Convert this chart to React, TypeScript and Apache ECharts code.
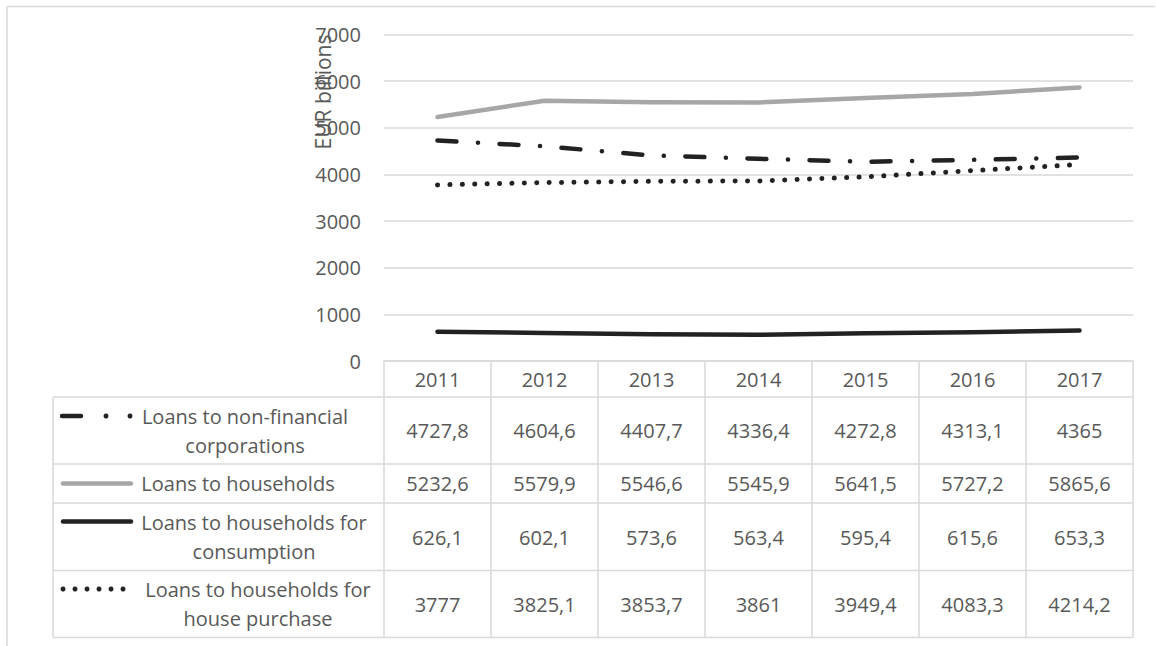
import React, { useEffect, useRef } from "react";
import * as echarts from "echarts";

const years = ["2011", "2012", "2013", "2014", "2015", "2016", "2017"];
const nonFinancial = [4727.8, 4604.6, 4407.7, 4336.4, 4272.8, 4313.1, 4365];
const households = [5232.6, 5579.9, 5546.6, 5545.9, 5641.5, 5727.2, 5865.6];
const consumption = [626.1, 602.1, 573.6, 563.4, 595.4, 615.6, 653.3];
const housePurchase = [3777, 3825.1, 3853.7, 3861, 3949.4, 4083.3, 4214.2];
const seriesNames = [
  "Loans to non-financial\ncorporations",
  "Loans to households",
  "Loans to households for\nconsumption",
  "Loans to households for\nhouse purchase",
];
const yTicks = { min: 0, max: 7000, interval: 1000 };
const yAxisName = "EUR billions";

const TXT = "#595959";
const GRID = "#D9D9D9";
const BLACK = "#222222";
const GRAY = "#A9A6A6";
const FONT = "Open Sans";

export default function App() {
  const ref = useRef<HTMLDivElement>(null);
  useEffect(() => {
    document.body.style.margin = "0";
    const chart = echarts.init(ref.current!, null, { renderer: "svg" });
    const left = 384;
    const right = 1133;
    const top = 34.6;
    const zeroY = 361;
    const colW = (right - left) / years.length;
    const rowLines = [397, 464, 503, 570.5, 637.5];
    const rowCenters = [430.5, 483.5, 537, 604];
    const labelX = [245, 238, 254, 258];
    const allData = [nonFinancial, households, consumption, housePurchase];
    const fmt = (v: number) => String(v).replace(".", ",");

    const graphics: any[] = [];
    // outer border
    graphics.push({ type: "line", shape: { x1: 7, y1: 6.5, x2: 1155, y2: 6.5 }, style: { stroke: GRID, lineWidth: 1.5 } });
    graphics.push({ type: "line", shape: { x1: 7, y1: 6.5, x2: 7, y2: 646 }, style: { stroke: GRID, lineWidth: 1.5 } });
    // table horizontal lines
    rowLines.forEach((y) => {
      graphics.push({ type: "line", shape: { x1: 53, y1: y, x2: right, y2: y }, style: { stroke: GRID, lineWidth: 1.5 } });
    });
    graphics.push({ type: "line", shape: { x1: 53, y1: 397, x2: 53, y2: 637.5 }, style: { stroke: GRID, lineWidth: 1.5 } });
    // table values
    allData.forEach((arr, r) => {
      arr.forEach((v, c) => {
        graphics.push({
          type: "text",
          x: left + colW * (c + 0.5),
          y: rowCenters[r],
          style: { text: fmt(v), fill: TXT, font: `20px "${FONT}"`, textAlign: "center", textVerticalAlign: "middle" },
        });
      });
      graphics.push({
        type: "text",
        x: labelX[r],
        y: rowCenters[r],
        style: {
          text: seriesNames[r],
          fill: TXT,
          font: `20px "${FONT}"`,
          textAlign: "center",
          textVerticalAlign: "middle",
          lineHeight: 29,
        },
      });
    });
    // legend keys
    graphics.push({ type: "line", shape: { x1: 62, y1: 416, x2: 81, y2: 416 }, style: { stroke: BLACK, lineWidth: 4.5, lineCap: "round" } });
    graphics.push({ type: "circle", shape: { cx: 106, cy: 416, r: 2.5 }, style: { fill: BLACK } });
    graphics.push({ type: "circle", shape: { cx: 130, cy: 416, r: 2.5 }, style: { fill: BLACK } });
    graphics.push({ type: "line", shape: { x1: 63, y1: 483.5, x2: 131, y2: 483.5 }, style: { stroke: GRAY, lineWidth: 4.5, lineCap: "round" } });
    graphics.push({ type: "line", shape: { x1: 63, y1: 521.5, x2: 131, y2: 521.5 }, style: { stroke: BLACK, lineWidth: 4.5, lineCap: "round" } });
    for (let i = 0; i < 6; i++) {
      graphics.push({ type: "circle", shape: { cx: 63 + 12 * i, cy: 589, r: 2.5 }, style: { fill: BLACK } });
    }
    // y axis name
    graphics.push({
      type: "text",
      x: 323,
      y: 92,
      rotation: Math.PI / 2,
      style: { text: yAxisName, fill: TXT, font: `21px "${FONT}"`, textAlign: "center", textVerticalAlign: "middle" },
    });

    chart.setOption({
      animation: false,
      textStyle: { fontFamily: FONT },
      grid: { left, right: 1156 - right, top, bottom: 646 - zeroY, containLabel: false },
      xAxis: {
        type: "category",
        data: years,
        boundaryGap: true,
        axisLine: { show: true, lineStyle: { color: GRID, width: 1.5 } },
        axisTick: { show: true, interval: 0, alignWithLabel: false, length: 276.5, lineStyle: { color: GRID, width: 1.5 } },
        axisLabel: { show: true, fontSize: 20, color: TXT, margin: 8, fontFamily: FONT },
      },
      yAxis: {
        type: "value",
        min: yTicks.min,
        max: yTicks.max,
        interval: yTicks.interval,
        axisLine: { show: false },
        axisTick: { show: false },
        axisLabel: { fontSize: 20, color: TXT, margin: 23, fontFamily: FONT, formatter: (v: number) => String(v) },
        splitLine: { lineStyle: { color: GRID, width: 1.5 } },
      },
      series: [
        {
          name: seriesNames[1],
          type: "line",
          data: households,
          symbol: "none",
          lineStyle: { color: GRAY, width: 4.5, cap: "round", join: "round" },
          z: 2,
        },
        {
          name: seriesNames[0],
          type: "line",
          data: nonFinancial,
          symbol: "none",
          lineStyle: { color: BLACK, width: 4.5, type: [19, 21.5, 0.1, 21.5], cap: "round", join: "round" },
          z: 3,
        },
        {
          name: seriesNames[3],
          type: "line",
          data: housePurchase,
          symbol: "none",
          lineStyle: { color: BLACK, width: 5, type: [0.1, 12.3], cap: "round", join: "round" },
          z: 3,
        },
        {
          name: seriesNames[2],
          type: "line",
          data: consumption,
          symbol: "none",
          lineStyle: { color: BLACK, width: 4.5, cap: "round", join: "round" },
          z: 3,
        },
      ],
      graphic: graphics,
    });
    return () => chart.dispose();
  }, []);
  return <div ref={ref} style={{ width: 1156, height: 646 }} />;
}
